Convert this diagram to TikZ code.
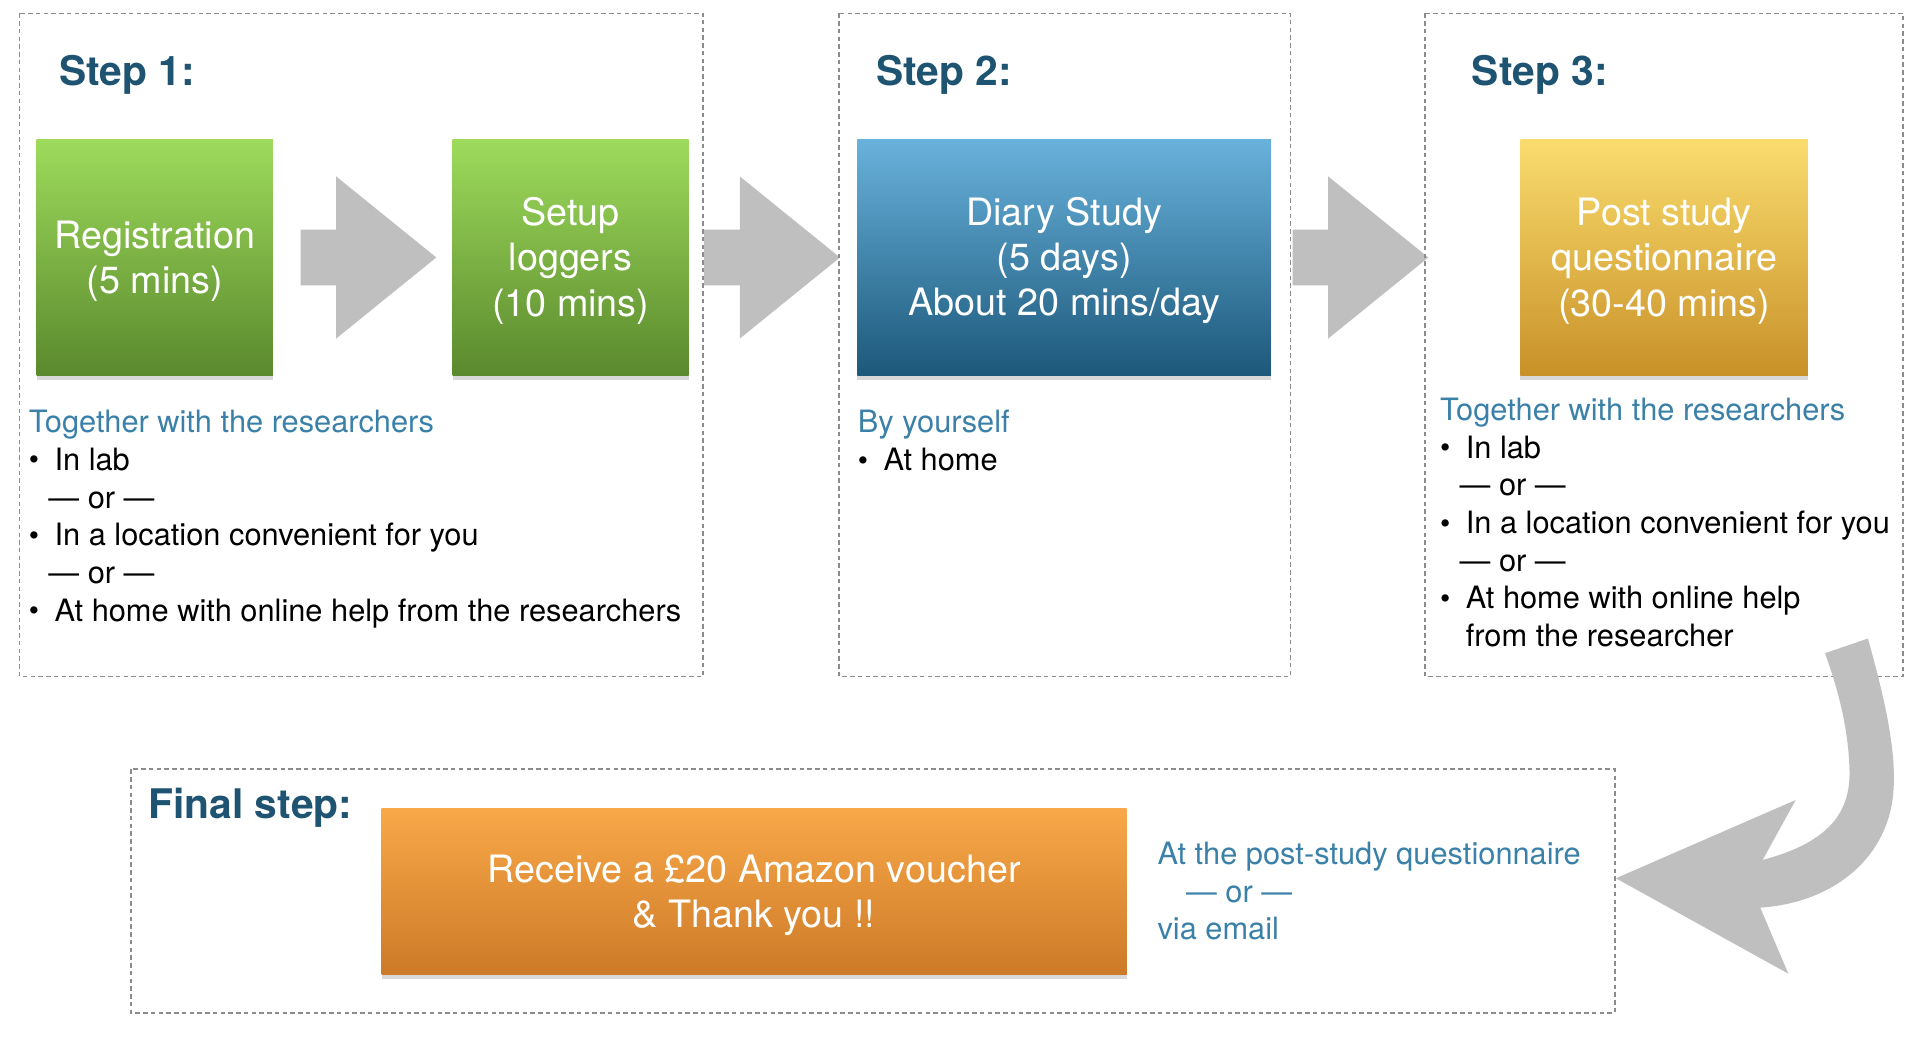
\documentclass[tikz,border=0pt]{standalone}
\usepackage{fontspec}
\setmainfont{TeX Gyre Heros}
\usetikzlibrary{positioning, shapes.arrows, shadows}

\definecolor{headblue}{RGB}{30,84,114}
\definecolor{noteblue}{RGB}{58,128,168}
\definecolor{framegray}{RGB}{140,140,140}
\definecolor{arrowgray}{RGB}{191,191,191}

\newcommand{\bul}{\makebox[12.6pt][l]{\raisebox{0.2pt}{\scalebox{0.95}{\textbullet}}}}
\newcommand{\orsep}{\hspace*{9.6pt}— or —}
\newcommand{\tstrut}{\rule{0pt}{17pt}}

\tikzset{
  frame/.style={draw=framegray, line width=0.9pt, dash pattern=on 2.2pt off 1.6pt},
  steplabel/.style={text=headblue, font=\fontsize{20}{24}\selectfont\bfseries, inner sep=0, anchor=base west},
  stepbox/.style={text=white, align=center, font=\fontsize{18.5}{22.2}\selectfont,
    minimum height=115.8pt, inner sep=0,
    drop shadow={shadow xshift=0pt, shadow yshift=-2pt, opacity=0.3}},
  greenbox/.style={stepbox, top color={rgb,255:red,158;green,219;blue,92}, bottom color={rgb,255:red,90;green,137;blue,45}},
  bluebox/.style={stepbox, top color={rgb,255:red,105;green,178;blue,220}, bottom color={rgb,255:red,28;green,88;blue,122}},
  goldbox/.style={stepbox, top color={rgb,255:red,250;green,220;blue,110}, bottom color={rgb,255:red,200;green,145;blue,40}},
  orangebox/.style={stepbox, top color={rgb,255:red,248;green,168;blue,72}, bottom color={rgb,255:red,205;green,122;blue,40}},
  note/.style={align=left, anchor=north west, inner sep=0, font=\fontsize{15.1}{18.5}\selectfont},
  bigarrow/.style={single arrow, fill=arrowgray, draw=none, inner xsep=0, inner ysep=13.5pt,
    minimum height=66.6pt, minimum width=79.2pt,
    single arrow head extend=26.1pt, single arrow tip angle=78}
}

\begin{document}
\begin{tikzpicture}[x=0.6pt, y=-0.6pt]
	\useasboundingbox (0,0) rectangle (1568,849);

	% boxes of the steps
	\node[greenbox, minimum width=115.8pt] (reg) at (126.5,210.5) {\tstrut Registration\\(5 mins)};
	\node[greenbox, minimum width=115.8pt] (setup) at (466.5,210.5) {\tstrut Setup\\loggers\\(10 mins)};
	\node[bluebox, minimum width=202.8pt] (diary) at (870,210.5) {\tstrut Diary Study\\(5 days)\\About 20 mins/day};
	\node[goldbox, minimum width=141pt] (post) at (1360.5,210.5) {\tstrut Post study\\questionnaire\\(30-40 mins)};
	\node[orangebox, minimum width=365.4pt, minimum height=81.6pt] (reward) at (616.5,729) {\tstrut Receive a £20 Amazon voucher\\\& Thank you !!};

	% arrows between them
	\node[bigarrow, right=13.2pt of reg] (a1) {};
	\node[bigarrow, right=7.2pt of setup] (a2) {};
	\node[bigarrow, right=10.2pt of diary] (a3) {};

	% frames
	\draw[frame] (16,11) rectangle (575,553);
	\draw[frame] (686,11) rectangle (1055,553);
	\draw[frame] (1165,11) rectangle (1556,553);
	\draw[frame] (107,629) rectangle (1320,828);

	% titles
	\node[steplabel] (t1) at (48,70) {Step 1:};
	\node[steplabel] (t2) at (716,70) {Step 2:};
	\node[steplabel] (t3) at (1203,70) {Step 3:};
	\node[steplabel] (t4) at (121,669) {Final step:};

	% notes
	\node[note] (n1) at (23.3,335) {\textcolor{noteblue}{Together with the researchers}\\
		\bul In lab\\ \orsep\\ \bul In a location convenient for you\\ \orsep\\
		\bul At home with online help from the researchers};
	\node[note] (n2) at (701,335) {\textcolor{noteblue}{By yourself}\\ \bul At home};
	\node[note] (n3) at (1177,325) {\textcolor{noteblue}{Together with the researchers}\\
		\bul In lab\\ \orsep\\ \bul In a location convenient for you\\ \orsep\\
		\bul At home with online help\\ \hspace*{12.6pt}from the researcher};
	\node[note, text=noteblue] (n4) at (946,688) {At the post-study questionnaire\\
		\hspace*{14pt}— or —\\ via email};

	% curved arrow down to the final step
	\fill[arrowgray] (1492,534) -- (1527,522)
		.. controls (1542,575) and (1550,615) .. (1548,645)
		.. controls (1545,700) and (1500,738) .. (1439,742)
		-- (1462,796) -- (1321,718) -- (1468,654) -- (1441,703)
		.. controls (1490,690) and (1513,668) .. (1512,630)
		.. controls (1511,595) and (1503,565) .. (1492,534) -- cycle;
\end{tikzpicture}
\end{document}
